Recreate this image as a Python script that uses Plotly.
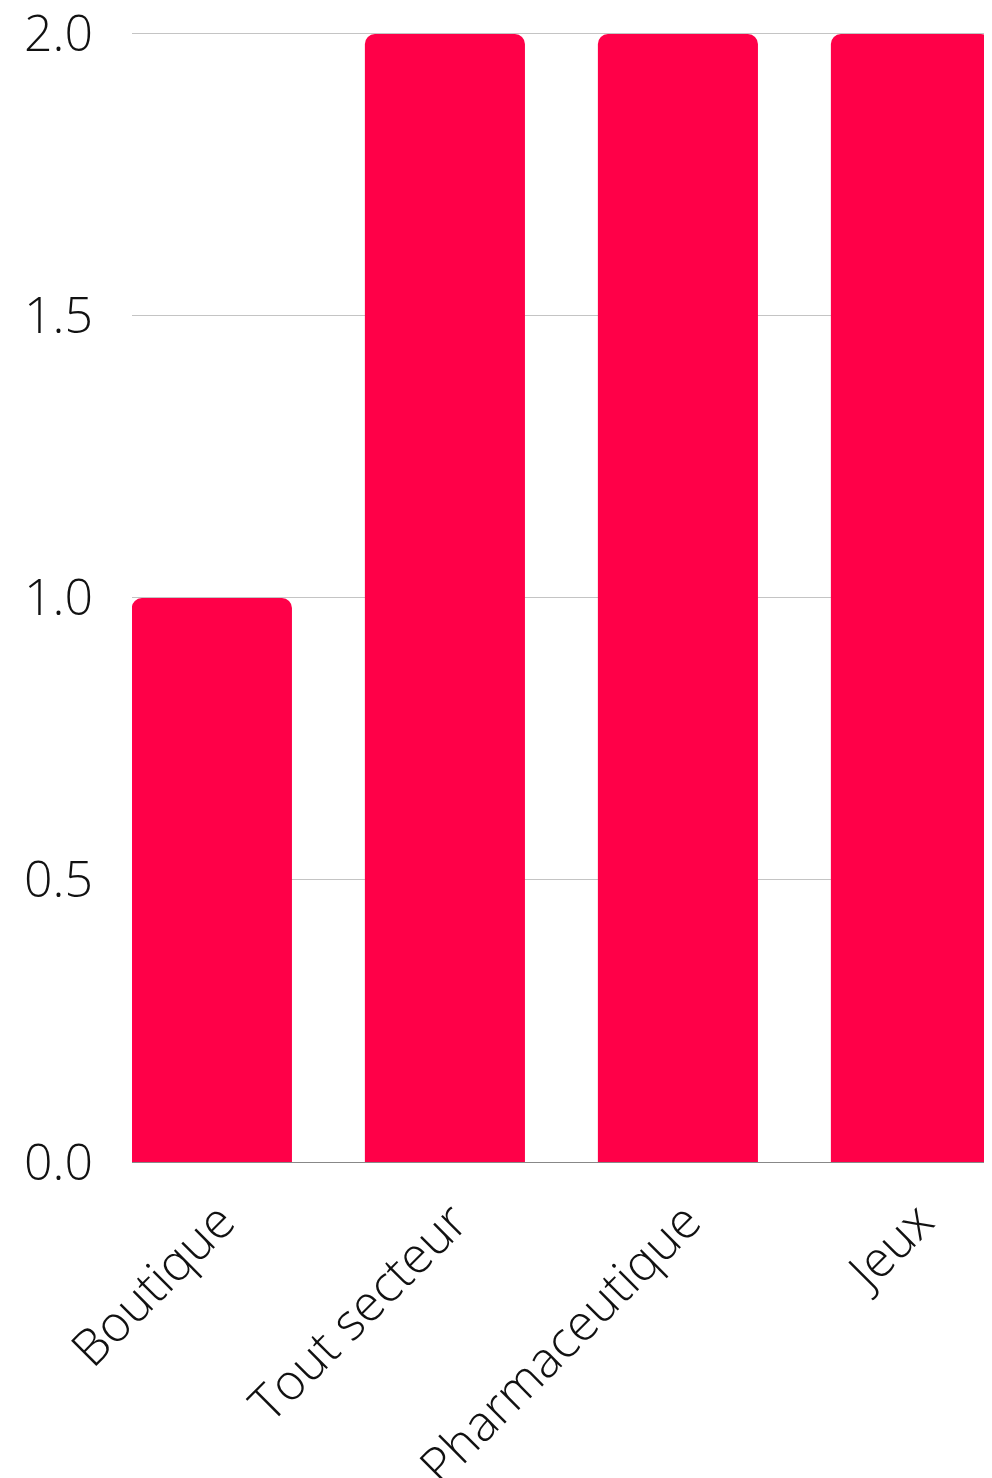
import plotly.graph_objects as go

categories = ["Boutique", "Tout secteur", "Pharmaceutique", "Jeux"]
values = [1, 2, 2, 2]
y_ticks = [0, 0.5, 1.0, 1.5, 2.0]
y_tick_labels = ["0.0", "0.5", "1.0", "1.5", "2.0"]

fig = go.Figure(
    go.Bar(
        x=categories,
        y=values,
        marker=dict(color="#FF0048", cornerradius=10, line=dict(width=0)),
    )
)

font_family = "Open Sans"
fig.update_layout(
    width=984,
    height=1470,
    margin=dict(l=124, r=0, t=24, b=316),
    paper_bgcolor="white",
    plot_bgcolor="white",
    bargap=0.313,
    showlegend=False,
    font=dict(family=font_family, size=50, color="#111111", weight=300),
)
fig.update_xaxes(
    range=[-0.343, 3.348],
    tickangle=-45,
    showgrid=False,
    showline=False,
    ticks="",
    automargin=False,
    ticklabelstandoff=19,
    ticklabelshift=8,
    ticklabeloverflow="allow",
    tickfont=dict(family=font_family, size=50, weight=300),
)
fig.update_yaxes(
    range=[0, 2.0035],
    tickvals=y_ticks,
    ticktext=y_tick_labels,
    showgrid=True,
    gridcolor="#c4c4c4",
    gridwidth=1,
    zeroline=True,
    zerolinecolor="#888888",
    zerolinewidth=1,
    showline=False,
    ticks="",
    automargin=False,
    ticklabelstandoff=38,
    ticklabeloverflow="allow",
    tickfont=dict(family=font_family, size=50, weight=300),
)

fig.write_html("out.html")
